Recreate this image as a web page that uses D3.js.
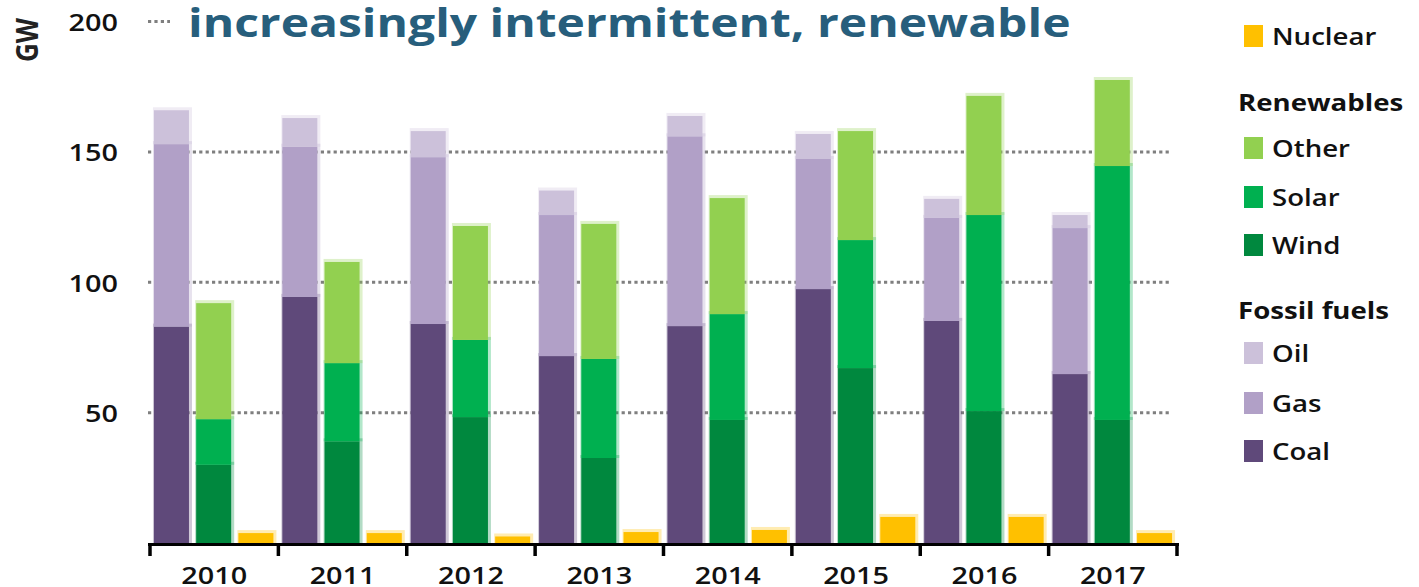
<!DOCTYPE html>
<html>
<head>
<meta charset="utf-8">
<script src="https://cdn.jsdelivr.net/npm/d3@7"></script>
<style>
  body { margin: 0; background: #fff; }
  svg { display: block; font-family: "Open Sans", sans-serif; }
</style>
</head>
<body>
<svg id="chart" width="1419" height="587"></svg>
<script>
const years = ["2010", "2011", "2012", "2013", "2014", "2015", "2016", "2017"];
// GW added per year
const coal = [83, 94.4, 84, 71.7, 83.2, 97.4, 85.2, 64.8];
const gas = [70, 57.6, 64, 54.1, 72.8, 49.9, 39.5, 56];
const oil = [13, 11, 10, 9.4, 7.8, 9.6, 7.3, 5];
const wind = [30, 39, 48.3, 32.6, 47.2, 67.1, 50.6, 47.2];
const solar = [17.5, 30, 29.6, 38, 40.6, 49.1, 75.2, 97.4];
const other = [44.5, 38.8, 43.7, 51.8, 44.5, 41.8, 45.7, 33];
const nuclear = [3.8, 3.8, 2.5, 4.2, 5, 10, 10, 3.8];
const yTicks = [50, 100, 150, 200];

const colors = {
    coal: "#5f497a", gas: "#b1a0c7", oil: "#ccc1da",
    wind: "#00883e", solar: "#00b050", other: "#92d050",
    nuclear: "#ffc000"
};

const rows = years.map((y, i) => ({
    year: y, coal: coal[i], gas: gas[i], oil: oil[i],
    wind: wind[i], solar: solar[i], other: other[i], nuclear: nuclear[i]
}));

const groups = [
    { key: "fossil", series: d3.stack().keys(["coal", "gas", "oil"])(rows) },
    { key: "renew", series: d3.stack().keys(["wind", "solar", "other"])(rows) },
    { key: "nuclear", series: d3.stack().keys(["nuclear"])(rows) }
];

const svg = d3.select("#chart");

const x = d3.scaleBand().domain(years).range([150, 1177]).padding(0);
const xi = d3.scaleBand().domain(["fossil", "renew", "nuclear"])
    .range([0, x.bandwidth()]).paddingInner(0.1).paddingOuter(0.07);
const y = d3.scaleLinear().domain([0, 200]).range([543, 21.6]);

// gridlines
svg.append("g")
    .selectAll("line")
    .data(yTicks)
    .join("line")
    .attr("x1", 148).attr("x2", 1172)
    .attr("y1", d => y(d)).attr("y2", d => y(d))
    .attr("stroke", "#7f7f7f")
    .attr("stroke-width", 3)
    .attr("stroke-dasharray", "3.2,3.2");

// bars
groups.forEach(g => {
    const layer = svg.append("g");
    g.series.forEach(s => {
        // soft fringe around each block
        layer.append("g")
            .selectAll("rect.halo")
            .data(s)
            .join("rect")
            .attr("class", "halo")
            .attr("x", d => x(d.data.year) + xi(g.key))
            .attr("y", d => y(d[1]) - 3)
            .attr("width", xi.bandwidth() + 1)
            .attr("height", d => y(d[0]) - y(d[1]) + 3)
            .attr("fill", colors[s.key])
            .attr("fill-opacity", 0.3);
    });
    g.series.forEach(s => {
        layer.append("g")
            .selectAll("rect.seg")
            .data(s)
            .join("rect")
            .attr("class", "seg")
            .attr("x", d => x(d.data.year) + xi(g.key) + 1)
            .attr("y", d => y(d[1]))
            .attr("width", xi.bandwidth() - 3)
            .attr("height", d => y(d[0]) - y(d[1]))
            .attr("fill", colors[s.key]);
    });
});

// x axis: baseline with ticks at group boundaries
const xAxis = d3.axisBottom(x).tickSize(0).tickPadding(0);
const xg = svg.append("g")
    .attr("transform", "translate(0,544.5)")
    .call(xAxis);
xg.select(".domain").remove();
xg.selectAll(".tick text").remove();
xg.selectAll(".tick")
    .append("text")
    .attr("transform", "translate(0,39) scale(1.2,1)")
    .attr("text-anchor", "middle")
    .attr("fill", "#111")
    .style("font-size", "24px")
    .style("font-weight", 600)
    .style("font-family", "'Open Sans', sans-serif")
    .text(d => d);

svg.append("line")
    .attr("x1", 148).attr("x2", 1179)
    .attr("y1", 544.5).attr("y2", 544.5)
    .attr("stroke", "#000").attr("stroke-width", 3);

const bounds = years.map(d => x(d)).concat([x.range()[1]]);
svg.append("g")
    .selectAll("line")
    .data(bounds)
    .join("line")
    .attr("x1", d => d).attr("x2", d => d)
    .attr("y1", 543).attr("y2", 556)
    .attr("stroke", "#000").attr("stroke-width", 3.5);

// y axis labels
const yg = svg.append("g")
    .attr("transform", "translate(148,0)")
    .call(d3.axisLeft(y).tickValues(yTicks).tickSize(0).tickPadding(0));
yg.select(".domain").remove();
yg.selectAll(".tick text").remove();
yg.selectAll(".tick")
    .append("text")
    .attr("transform", "translate(-30,9) scale(1.2,1)")
    .attr("text-anchor", "end")
    .attr("fill", "#111")
    .style("font-size", "24px")
    .style("font-weight", 600)
    .style("font-family", "'Open Sans', sans-serif")
    .text(d => d);

svg.append("text")
    .attr("transform", "translate(38,40) rotate(-90) scale(1,1.2)")
    .attr("text-anchor", "middle")
    .attr("fill", "#222")
    .style("font-size", "26px")
    .style("font-weight", 700)
    .text("GW");

// title sits over the top gridline
svg.append("rect")
    .attr("x", 170).attr("y", 0)
    .attr("width", 1060).attr("height", 50)
    .attr("fill", "#fff");
svg.append("text")
    .attr("transform", "translate(188,37) scale(1.2,1)")
    .attr("fill", "#275e7c")
    .style("font-size", "40px")
    .style("font-weight", 700)
    .text("increasingly intermittent, renewable");

// legend
const legendItems = [
    { label: "Nuclear", key: "nuclear", cy: 36 },
    { label: "Renewables", header: true, cy: 102 },
    { label: "Other", key: "other", cy: 148 },
    { label: "Solar", key: "solar", cy: 197 },
    { label: "Wind", key: "wind", cy: 245 },
    { label: "Fossil fuels", header: true, cy: 310 },
    { label: "Oil", key: "oil", cy: 353 },
    { label: "Gas", key: "gas", cy: 403 },
    { label: "Coal", key: "coal", cy: 451 }
];

const legend = svg.append("g");
legend.selectAll("rect")
    .data(legendItems.filter(d => !d.header))
    .join("rect")
    .attr("x", 1244)
    .attr("y", d => d.cy - 11)
    .attr("width", 19)
    .attr("height", 22)
    .attr("fill", d => colors[d.key]);

legend.selectAll("text")
    .data(legendItems)
    .join("text")
    .attr("transform", d => `translate(${d.header ? 1238 : 1272},${d.cy + 9}) scale(1.15,1)`)
    .attr("fill", "#111")
    .style("font-size", "24px")
    .style("font-weight", d => d.header ? 700 : 600)
    .text(d => d.label);
</script>
</body>
</html>
